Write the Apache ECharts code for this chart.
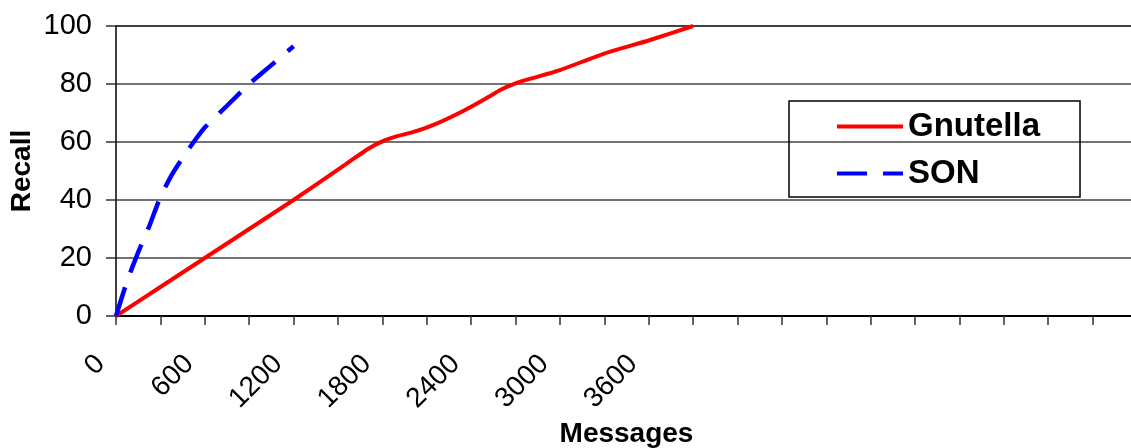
<!DOCTYPE html>
<html>
<head>
<meta charset="utf-8">
<script src="https://cdn.jsdelivr.net/npm/echarts@6/dist/echarts.min.js"></script>
<style>
  html, body { margin: 0; padding: 0; background: #fff; }
  #recallChart { width: 1131px; height: 448px; }
</style>
</head>
<body>
<div id="recallChart"></div>
<script>
  // Messages -> Recall
  var gnutella = [
    [0, 0], [300, 10], [600, 20], [900, 30], [1200, 40], [1500, 50.5],
    [1700, 57.5], [1800, 60.2], [1900, 62], [2000, 63.3], [2150, 66],
    [2350, 70.8], [2500, 75], [2600, 78], [2700, 80.2], [2800, 81.8],
    [3000, 84.8], [3300, 90.5], [3600, 95], [3900, 100]
  ];
  var son = [
    [0, 0], [75, 12], [150, 22], [225, 31], [300, 41], [375, 48.5],
    [450, 54.5], [525, 60], [600, 65], [750, 72.5], [900, 80],
    [1050, 86.5], [1200, 93]
  ];
  var xLabels = [0, 600, 1200, 1800, 2400, 3000, 3600];

  var myChart = echarts.init(document.getElementById('recallChart'));
  var font = 'Liberation Sans, Arial, sans-serif';

  myChart.setOption({
    animation: false,
    grid: { left: 116, top: 26, right: -6, bottom: 132, containLabel: false, outerBoundsMode: 'none' },
    legend: {
      orient: 'vertical',
      left: 789,
      top: 101,
      padding: [9, 40, 7, 46],
      itemGap: 14,
      itemWidth: 66,
      itemHeight: 14,
      borderColor: '#000',
      borderWidth: 1.5,
      itemStyle: { opacity: 0 },
      lineStyle: { width: 4 },
      textStyle: { fontFamily: font, fontSize: 33, fontWeight: 'bold', color: '#000', lineHeight: 32 },
      data: ['Gnutella', 'SON']
    },
    xAxis: {
      type: 'value',
      min: 0,
      max: 6900,
      interval: 300,
      name: 'Messages',
      nameLocation: 'middle',
      nameGap: 104,
      nameMoveOverlap: false,
      nameTextStyle: { fontFamily: font, fontSize: 28, fontWeight: 'bold', color: '#000' },
      axisLine: { lineStyle: { color: '#000', width: 2 } },
      axisTick: { length: 9, lineStyle: { color: '#333', width: 1.5 } },
      splitLine: { show: false },
      axisLabel: {
        rotate: 45,
        margin: 28,
        padding: [0, 22, 0, 0],
        fontFamily: font,
        fontSize: 28,
        color: '#000',
        showMaxLabel: false,
        formatter: function (v) {
          return xLabels.indexOf(v) >= 0 ? String(v) : '';
        }
      }
    },
    yAxis: {
      type: 'value',
      min: 0,
      max: 100,
      interval: 20,
      name: 'Recall',
      nameLocation: 'middle',
      nameGap: 80,
      nameMoveOverlap: false,
      nameTextStyle: { fontFamily: font, fontSize: 28, fontWeight: 'bold', color: '#000' },
      axisLine: { show: true, lineStyle: { color: '#000', width: 1.5 } },
      axisTick: { show: true, length: 10, lineStyle: { color: '#333', width: 1.5 } },
      splitLine: { lineStyle: { color: ['#444', '#444', '#444', '#444', '#444', '#000'], width: 1.5 } },
      axisLabel: { margin: 24, fontFamily: font, fontSize: 29, color: '#000' }
    },
    series: [
      {
        name: 'Gnutella',
        type: 'line',
        data: gnutella,
        symbol: 'none',
        smooth: 0.2,
        itemStyle: { color: '#ff0000' },
        lineStyle: { color: '#ff0000', width: 4 }
      },
      {
        name: 'SON',
        type: 'line',
        data: son,
        symbol: 'none',
        smooth: 0.2,
        itemStyle: { color: '#0000ff' },
        lineStyle: { color: '#0000ff', width: 4.5, type: [30, 16] }
      }
    ]
  });

  window.addEventListener('resize', function () {
    myChart.resize();
  });
</script>
</body>
</html>
